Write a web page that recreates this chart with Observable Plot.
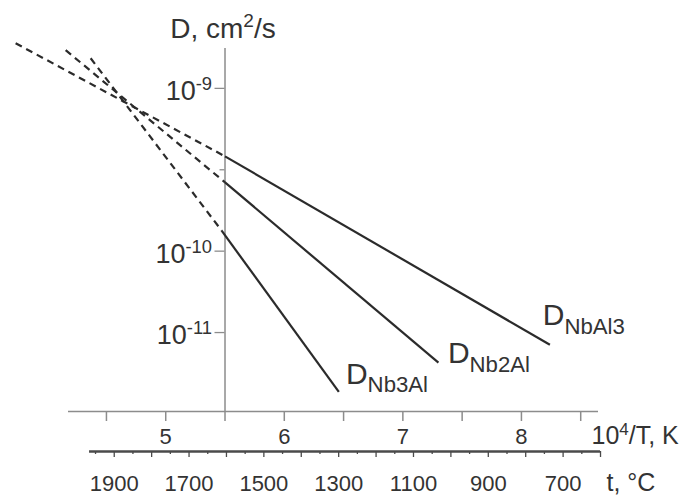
<!DOCTYPE html>
<html>
<head>
<meta charset="utf-8">
<script src="https://cdn.jsdelivr.net/npm/d3@7"></script>
<script src="https://cdn.jsdelivr.net/npm/@observablehq/plot@0.6"></script>
<style>
  html, body { margin: 0; padding: 0; background: #fff; }
  svg text { font-family: "Liberation Sans", Arial, Helvetica, sans-serif; }
</style>
</head>
<body>
<div id="chart"></div>
<script>
// ---------- data (x = 10^4/T, y = log10 of D as laid out on the chart's axis) ----------
const series   = ["NbAl3", "Nb2Al", "Nb3Al"];
const labels   = ["D_{NbAl3}", "D_{Nb2Al}", "D_{Nb3Al}"];
// measured (solid) segments
const solidX1  = [5.5, 5.5, 5.47];
const solidY1  = [-8.835, -9.155, -9.745];
const solidX2  = [8.24, 7.30, 6.46];
const solidY2  = [-11.15, -11.37, -11.73];
// dashed extrapolations towards high temperature (end at the solid start)
const dashX1   = [3.734, 4.156, 4.367];
const dashY1   = [-7.445, -7.53, -7.63];
// curve label anchors
const labelX   = [8.18, 7.38, 6.52];
const labelY   = [-10.91, -11.38, -11.63];

// axes
const xTicks       = [4.5, 5, 5.5, 6, 6.5, 7, 7.5, 8, 8.5];
const xTickLabels  = [5, 6, 7, 8];
const yTicks       = [-11, -10, -9, -8];
const yTickLabels  = ["10^{-11}", "10^{-10}", "", "10^{-9}"];
const cTicks       = d3.range(1950, 599, -50);        // t, °C minor ticks every 50
const cTickLabels  = [1900, 1700, 1500, 1300, 1100, 900, 700];

const xDomain = [4.18, 8.65];
const yDomain = [-11.97, -7.51];
const yAxisAt = 5.5;            // the D axis stands at 10^4/T = 5.5
const xAxisAt = yDomain[0];
// secondary (°C) axis drawn against the 10^4/T axis
const tToX = d3.scaleLinear().domain([1950, 600]).range([4.408, 8.667]);

const ink = "#2b2b2b", axisInk = "#8c8c8c", textInk = "#333";
const idx = d3.range(series.length);

const chart = Plot.plot({
  width: 692, height: 499,
  marginLeft: 68, marginRight: 94, marginTop: 48, marginBottom: 88,
  x: {domain: xDomain, axis: null},
  y: {domain: yDomain, axis: null},
  style: {background: "#fff", color: textInk},
  marks: [
    // 10^4/T axis
    Plot.ruleY([xAxisAt], {stroke: axisInk, strokeWidth: 1.5}),
    Plot.ruleX(xTicks, {x: d => d, y1: xAxisAt, y2: xAxisAt, insetBottom: -10, stroke: axisInk, strokeWidth: 1.5}),
    Plot.text(xTickLabels, {x: d => d, y: xAxisAt, text: d => String(d), dy: 32, lineAnchor: "bottom", fontSize: 22, fill: textInk}),
    Plot.text(["10^{4}/T, K"], {x: xDomain[1], y: xAxisAt, dx: -7, dy: 32, textAnchor: "start", lineAnchor: "bottom", fontSize: 25, fill: textInk}),
    // t, °C axis
    Plot.ruleY([xAxisAt], {x1: tToX(1966), x2: tToX(600), dy: 40, stroke: "#4a4a4a", strokeWidth: 2.4}),
    Plot.ruleX(cTicks, {x: d => tToX(d), y1: xAxisAt, y2: xAxisAt, dy: 40, insetBottom: -6, filter: d => d % 100 === 0, stroke: "#4a4a4a", strokeWidth: 1.3}),
    Plot.ruleX(cTicks, {x: d => tToX(d), y1: xAxisAt, y2: xAxisAt, dy: 40, insetBottom: -3, filter: d => d % 100 !== 0, stroke: "#4a4a4a", strokeWidth: 1.3}),
    Plot.text(cTickLabels, {x: d => tToX(d), y: xAxisAt, text: d => String(d), dy: 79, lineAnchor: "bottom", fontSize: 22, fill: textInk}),
    Plot.text(["t, °C"], {x: tToX(600), y: xAxisAt, dx: 6, dy: 79, textAnchor: "start", lineAnchor: "bottom", fontSize: 25, fill: textInk}),
    // D axis
    Plot.ruleX([yAxisAt], {stroke: axisInk, strokeWidth: 1.5}),
    Plot.ruleY(yTicks, {y: d => d, x1: yAxisAt, x2: yAxisAt, insetLeft: -10, filter: (d, i) => yTickLabels[i] !== "", stroke: axisInk, strokeWidth: 1.3}),
    Plot.ruleY(yTicks, {y: d => d, x1: yAxisAt, x2: yAxisAt, insetLeft: -5, filter: (d, i) => yTickLabels[i] === "", stroke: axisInk, strokeWidth: 1.3}),
    Plot.text(yTicks, {x: yAxisAt, y: d => d, text: (d, i) => yTickLabels[i], dx: -13, dy: 3, textAnchor: "end", fontSize: 27, fill: textInk}),
    Plot.text(["D, cm^{2}/s"], {x: yAxisAt, y: yDomain[1], dy: -11, dx: -2, textAnchor: "middle", lineAnchor: "bottom", fontSize: 28, fill: textInk}),
    // dashed extrapolations
    Plot.link(idx, {x1: i => dashX1[i], y1: i => dashY1[i], x2: i => solidX1[i], y2: i => solidY1[i],
      stroke: ink, strokeWidth: 2.2, strokeDasharray: "7,5"}),
    // measured lines
    Plot.link(idx, {x1: i => solidX1[i], y1: i => solidY1[i], x2: i => solidX2[i], y2: i => solidY2[i],
      stroke: ink, strokeWidth: 2.2}),
    // curve labels
    Plot.text(idx, {x: i => labelX[i], y: i => labelY[i], text: i => labels[i], textAnchor: "start", lineAnchor: "bottom", fontSize: 30, fill: textInk})
  ]
});

document.getElementById("chart").appendChild(chart);

// turn ^{..} and _{..} into real super/subscript tspans
(function richify(svg) {
  const NS = "http://www.w3.org/2000/svg";
  svg.querySelectorAll("text").forEach(t => {
    const s = t.textContent;
    if (!/[\^_]\{/.test(s)) return;
    const fs = parseFloat(getComputedStyle(t).fontSize) || 16;
    t.textContent = "";
    const re = /([\^_])\{([^}]*)\}|([^\^_]+)/g;
    let m, shift = 0;
    while ((m = re.exec(s))) {
      const ts = document.createElementNS(NS, "tspan");
      if (m[1]) {
        const sup = m[1] === "^";
        const target = sup ? -0.36 * fs : 0.28 * fs;
        ts.setAttribute("font-size", (sup ? 0.68 : 0.74) * fs);
        ts.setAttribute("dy", target - shift);
        shift = target;
        ts.textContent = m[2];
      } else {
        ts.setAttribute("dy", -shift);
        shift = 0;
        ts.textContent = m[3];
      }
      t.appendChild(ts);
    }
  });
})(chart);
</script>
</body>
</html>
